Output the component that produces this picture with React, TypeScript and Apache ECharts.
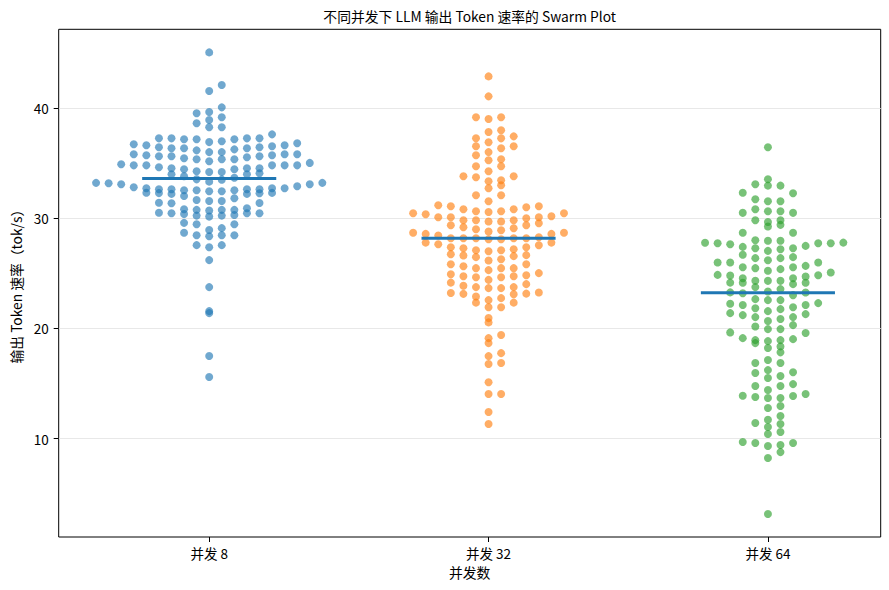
import React, { useEffect, useRef } from 'react';
import * as echarts from 'echarts';

const categories = ['并发 8', '并发 32', '并发 64'];

// Output token rate (tok/s) per run
const tokRate8 = [
  45.05,
  41.54, 42.09,
  39.64, 40.06,
  38.91, 39.16, 39.52,
  38.25, 38.25, 38.62,
  36.91, 36.98, 37.16, 37.16, 37.16, 37.25, 37.25, 37.25, 37.25, 37.61,
  36.0, 36.0, 36.16, 36.25, 36.35, 36.35, 36.35, 36.44, 36.44, 36.53, 36.62, 36.62, 36.71, 36.8,
  35.17, 35.35, 35.35, 35.35, 35.44, 35.53, 35.62, 35.62, 35.62, 35.71, 35.71, 35.8, 35.8, 35.8,
  34.19, 34.19, 34.26, 34.44, 34.44, 34.53, 34.53, 34.53, 34.62, 34.8, 34.8, 34.8, 34.8, 34.8, 34.9, 35.02,
  33.32, 33.5, 33.53, 33.68, 33.81, 33.99, 33.99, 34.08,
  32.45, 32.45, 32.54, 32.54, 32.54, 32.63, 32.63, 32.63, 32.63, 32.72, 32.72, 32.72, 32.81, 32.9, 33.08, 33.08, 33.17, 33.21, 33.21,
  31.57, 31.57, 31.66, 31.81, 32.02, 32.21, 32.21, 32.26, 32.28, 32.3, 32.32,
  30.7, 30.76, 30.76, 30.76, 30.82, 30.91, 31.36, 31.38, 31.4,
  30.15, 30.24, 30.24, 30.3, 30.39, 30.45, 30.45, 30.45, 30.5,
  28.94, 29.1, 29.46, 29.46, 29.58,
  28.37, 28.46, 28.46, 28.46, 28.68,
  27.37, 27.56, 27.56,
  26.2, 23.75, 21.57, 21.39, 17.5, 15.59,
];

const tokRate32 = [
  42.87, 41.06,
  39.0, 39.16, 39.16,
  37.83, 37.98,
  36.9, 37.25, 37.25, 37.43,
  36.0, 36.35, 36.53, 36.53,
  35.26, 35.35, 35.71,
  34.26, 34.71, 34.71,
  33.35, 33.44, 33.72, 33.81, 33.81,
  32.72, 32.99,
  31.54, 32.09, 32.09,
  30.57, 30.64, 30.64, 30.82, 30.82, 31.0, 31.09, 31.09, 31.18,
  29.7, 29.7, 29.82, 29.82, 29.82, 30.0, 30.09, 30.09, 30.09, 30.18, 30.36, 30.45, 30.45,
  28.79, 28.91, 29.0, 29.09, 29.18, 29.37, 29.37, 29.55,
  28.1, 28.1, 28.19, 28.19, 28.19, 28.19, 28.19, 28.28, 28.43, 28.58, 28.58, 28.69, 28.69,
  27.01, 27.1, 27.1, 27.19, 27.28, 27.37, 27.37, 27.55, 27.64, 27.79, 27.79,
  26.16, 26.28, 26.47, 26.56, 26.62, 26.65, 26.74,
  25.29, 25.47, 25.47, 25.47, 25.65, 25.83, 25.83,
  24.41, 24.65, 24.65, 24.74, 24.74, 24.83, 24.92, 25.02,
  23.66, 23.66, 23.75, 23.75, 23.87, 24.02, 24.16,
  22.57, 22.75, 22.9, 23.11, 23.14, 23.16, 23.22, 23.26,
  21.93, 21.93, 22.34, 22.34,
  20.94, 20.55,
  19.12, 19.4,
  18.67,
  17.49, 17.76,
  16.77, 16.86,
  15.12,
  14.05, 14.05,
  12.42, 11.33,
];

const tokRate64 = [
  36.44, 33.54,
  32.96, 32.96, 33.08,
  31.54, 31.54, 31.72, 32.27, 32.32,
  30.64, 30.64, 30.82,
  29.66, 29.82, 29.82, 30.49, 30.49,
  29.25, 29.4,
  27.95, 27.95, 28.01, 28.69, 28.69,
  27.04, 27.19, 27.28, 27.28, 27.4, 27.49, 27.64, 27.73, 27.73, 27.73, 27.78, 27.79,
  26.19, 26.38, 26.38, 26.47, 26.68,
  25.23, 25.38, 25.47, 25.56, 25.56, 25.68, 25.98, 25.98, 25.98,
  24.32, 24.32, 24.32, 24.56, 24.56, 24.71, 24.8, 24.82, 24.86, 25.07,
  23.35, 23.57, 23.75, 24.02, 24.14, 24.15, 24.16,
  22.57, 22.57, 22.66, 23.02, 23.2, 23.26, 23.27,
  21.57, 21.75, 21.84, 21.93, 22.12, 22.12, 22.24, 22.3,
  20.67, 20.85, 21.03, 21.03, 21.21, 21.3, 21.39,
  19.94, 19.94, 20.18, 20.3,
  18.85, 18.94, 18.94, 19.03, 19.12, 19.58, 19.64,
  18.22, 18.37, 18.67,
  17.13, 17.83,
  16.22, 16.86, 16.86,
  15.5, 15.68, 15.95, 16.03,
  14.41, 14.77, 14.78, 14.95,
  13.69, 13.69, 13.78, 13.87, 13.9, 14.05,
  12.78, 12.96,
  11.72, 12.05,
  11.06, 11.33, 11.42,
  10.42, 10.6,
  9.34, 9.43, 9.61, 9.61, 9.7,
  8.25, 8.78,
  3.17,
];

const groups = [tokRate8, tokRate32, tokRate64];
const yTickValues = [10, 20, 30, 40];
const xTickValues = [0, 1, 2];

const pointColors = ['rgba(31,119,180,0.8)', 'rgba(255,127,14,0.8)', 'rgba(44,160,44,0.8)'];
const medianColor = '#1f77b4';
const FONT = '"Noto Sans CJK SC", "Noto Sans", sans-serif';

// swarm layout parameters
const BIN_WIDTH = 0.905;
const BIN_ORIGIN = 34.15;
const SWARM_STEP = 0.045;
const MEDIAN_HALF = 0.24;

function swarm(values: number[], center: number): number[][] {
  const bins = new Map<number, number[]>();
  values.forEach((v) => {
    const b = Math.floor((v - BIN_ORIGIN) / BIN_WIDTH);
    if (!bins.has(b)) bins.set(b, []);
    bins.get(b)!.push(v);
  });
  const pts: number[][] = [];
  bins.forEach((list) => {
    list.sort((a, b) => a - b);
    list.forEach((v, i) => {
      const k = i === 0 ? 0 : i % 2 === 1 ? (i + 1) / 2 : -i / 2;
      pts.push([center + k * SWARM_STEP, v]);
    });
  });
  return pts;
}

function median(values: number[]): number {
  const s = [...values].sort((a, b) => a - b);
  const n = s.length;
  return n % 2 ? s[(n - 1) / 2] : (s[n / 2 - 1] + s[n / 2]) / 2;
}

export default function App() {
  const ref = useRef<HTMLDivElement>(null);

  useEffect(() => {
    document.body.style.margin = '0';
    if (!ref.current) return;
    const chart = echarts.init(ref.current, undefined, { renderer: 'svg' });

    const swarms = groups.map((g, i) => swarm(g, i));
    const allX = swarms.flat().map((p) => p[0]);
    const allY = groups.flat();
    const xLo = Math.min(...allX), xHi = Math.max(...allX);
    const yLo = Math.min(...allY), yHi = Math.max(...allY);
    const xPad = (xHi - xLo) * 0.05;
    const yPad = (yHi - yLo) * 0.05;

    const scatterSeries = swarms.map((pts, i) => ({
      type: 'scatter',
      data: pts,
      symbolSize: 8,
      itemStyle: { color: pointColors[i] },
      z: 2,
      silent: true,
    }));
    const medianSeries = groups.map((g, i) => {
      const m = median(g);
      return {
        type: 'line',
        data: [[i - MEDIAN_HALF, m], [i + MEDIAN_HALF, m]],
        symbol: 'none',
        lineStyle: { color: medianColor, width: 3, cap: 'butt' },
        z: 3,
        silent: true,
      };
    });

    chart.setOption({
      animation: false,
      title: {
        text: '不同并发下 LLM 输出 Token 速率的 Swarm Plot',
        left: 469.7,
        top: 9,
        padding: 0,
        textAlign: 'center',
        textStyle: { fontSize: 13.8, fontWeight: 'normal', fontFamily: FONT, color: '#000' },
      },
      grid: {
        left: 58.7,
        right: 8.3,
        top: 29.3,
        bottom: 53,
        show: true,
        borderColor: '#000',
        borderWidth: 1,
        backgroundColor: 'transparent',
      },
      xAxis: {
        type: 'value',
        position: 'bottom',
        min: xLo - xPad,
        max: xHi + xPad,
        name: '并发数',
        nameLocation: 'middle',
        nameGap: 28,
        nameTextStyle: { fontSize: 13.8, fontFamily: FONT, color: '#000' },
        axisLine: { show: false, onZero: false },
        axisTick: { show: true, length: 5, customValues: xTickValues, lineStyle: { color: '#000', width: 1 } },
        axisLabel: {
          customValues: xTickValues,
          formatter: (v: number) => categories[Math.round(v)] ?? '',
          margin: 9,
          fontSize: 13.5,
          fontFamily: FONT,
          color: '#000',
        },
        splitLine: { show: false },
      },
      yAxis: {
        type: 'value',
        position: 'left',
        min: yLo - yPad,
        max: yHi + yPad,
        name: '输出 Token 速率（tok/s）',
        nameLocation: 'middle',
        nameGap: 34,
        nameRotate: 90,
        nameTextStyle: { fontSize: 13.8, fontFamily: FONT, color: '#000' },
        axisLine: { show: false, onZero: false },
        axisTick: { show: true, length: 5, customValues: yTickValues, lineStyle: { color: '#000', width: 1 } },
        axisLabel: {
          customValues: yTickValues,
          margin: 10,
          fontSize: 13.5,
          fontFamily: FONT,
          color: '#000',
        },
        splitLine: { show: true, lineStyle: { color: '#e8e8e8', width: 1 } },
      },
      series: [...scatterSeries, ...medianSeries],
    });

    return () => chart.dispose();
  }, []);

  return <div ref={ref} style={{ width: 889, height: 590 }} />;
}
